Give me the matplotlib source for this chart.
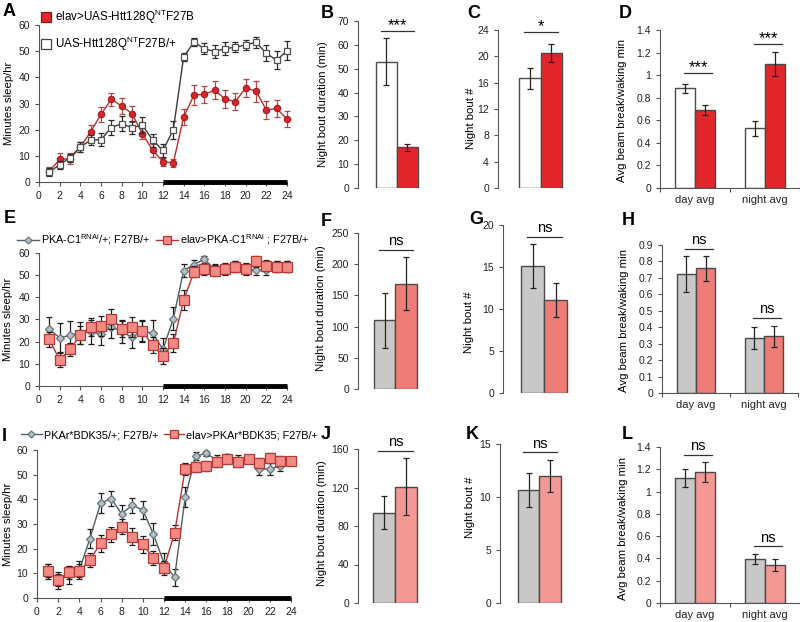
import matplotlib
matplotlib.use("Agg")
import matplotlib.pyplot as plt
from matplotlib.lines import Line2D
from matplotlib.ticker import FormatStrFormatter, FixedLocator
import numpy as np

plt.rcParams['font.family'] = ['Liberation Sans', 'DejaVu Sans']
plt.rcParams['mathtext.fontset'] = 'custom'
plt.rcParams['mathtext.rm'] = 'Liberation Sans'
plt.rcParams['mathtext.it'] = 'Liberation Sans:italic'

# ---------------- data ----------------
hours = list(range(1, 25))
night_span = [12, 24]

# Panel A
a_red = [4.2, 8.6, 8.9, 13.3, 19.2, 25.8, 31.7, 29.0, 26.1, 18.5, 12.1, 7.8,
         7.3, 24.9, 33.2, 33.5, 35.1, 31.7, 30.7, 36.0, 34.7, 27.5, 28.1, 24.0]
a_red_err = [1.5, 2.5, 2.0, 2.0, 2.5, 3.0, 2.5, 3.0, 3.0, 2.0, 2.5, 1.5,
             1.5, 3.0, 3.8, 3.2, 3.5, 3.5, 3.2, 3.5, 4.0, 3.5, 3.3, 3.0]
a_white = [3.8, 6.6, 9.3, 13.4, 16.0, 16.2, 20.8, 22.3, 20.7, 21.8, 16.0, 12.1,
           20.0, 47.9, 53.4, 51.0, 49.8, 51.0, 51.5, 52.4, 53.4, 49.2, 46.5, 50.2]
a_white_err = [1.5, 1.5, 1.5, 2.0, 2.0, 2.5, 3.0, 3.0, 2.5, 3.0, 2.5, 2.5,
               3.5, 1.5, 1.5, 2.0, 2.5, 2.5, 2.0, 2.0, 2.0, 3.0, 3.5, 3.5]

# Panel E
e_gray = [25.5, 21.7, 22.9, 24.0, 24.4, 23.4, 26.7, 24.4, 22.0, 24.9, 23.7, 16.5,
          30.4, 52.0, 54.7, 57.1, 52.6, 52.9, 53.7, 52.9, 52.3, 52.3, 53.7, 53.7]
e_gray_err = [5.5, 6.5, 6.5, 5.0, 5.5, 5.0, 5.0, 5.0, 5.0, 5.0, 6.0, 5.0,
              5.0, 3.0, 2.0, 1.5, 2.5, 2.5, 2.5, 2.5, 2.5, 2.5, 2.5, 2.5]
e_red = [21.0, 11.7, 16.5, 22.9, 26.7, 27.1, 30.4, 25.9, 26.7, 24.7, 18.4, 13.6,
         19.2, 38.7, 51.4, 52.6, 51.9, 52.6, 53.7, 52.6, 56.2, 54.1, 53.7, 53.7]
e_red_err = [3.5, 3.0, 3.0, 4.0, 4.0, 4.5, 4.5, 4.0, 4.5, 4.5, 3.5, 3.5,
             4.0, 4.5, 2.5, 2.5, 2.5, 2.5, 2.5, 2.5, 2.5, 2.5, 2.5, 2.5]

# Panel I
i_gray = [10.7, 7.0, 9.3, 11.4, 24.1, 38.4, 40.3, 34.2, 37.6, 35.7, 25.9, 14.1,
          8.4, 40.8, 57.6, 58.6, 55.9, 57.0, 55.9, 56.2, 52.3, 52.3, 53.5, 55.7]
i_gray_err = [3.0, 3.5, 3.5, 3.5, 4.0, 4.0, 3.0, 3.5, 3.0, 3.5, 4.5, 4.0,
              3.5, 4.0, 1.5, 1.0, 2.0, 1.5, 2.0, 1.5, 2.5, 2.5, 2.0, 1.5]
i_red = [11.1, 7.3, 10.4, 11.1, 15.4, 22.2, 25.9, 28.9, 24.9, 21.8, 16.2, 12.2,
         26.4, 52.3, 53.0, 53.5, 55.3, 56.5, 55.3, 56.2, 54.6, 56.6, 55.4, 55.4]
i_red_err = [2.5, 2.5, 2.5, 2.5, 3.0, 3.5, 3.0, 3.0, 3.5, 3.5, 3.0, 3.0,
             3.0, 2.5, 2.0, 2.0, 2.0, 1.5, 2.0, 1.5, 2.0, 2.0, 2.0, 1.5]

# bar panels: [control, experimental]
b_vals, b_err = [53.0, 17.0], [10.0, 1.5]
c_vals, c_err = [16.7, 20.5], [1.6, 1.3]
categories = ['day avg', 'night avg']
d_ctrl, d_ctrl_err = [0.885, 0.53], [0.04, 0.065]
d_exp, d_exp_err = [0.69, 1.10], [0.045, 0.105]
f_vals, f_err = [110.0, 169.0], [44.0, 43.0]
g_vals, g_err = [15.1, 11.1], [2.6, 2.0]
h_ctrl, h_ctrl_err = [0.725, 0.335], [0.11, 0.068]
h_exp, h_exp_err = [0.76, 0.345], [0.076, 0.065]
j_vals, j_err = [94.0, 121.0], [17.0, 30.0]
k_vals, k_err = [10.7, 12.0], [1.6, 1.5]
l_ctrl, l_ctrl_err = [1.125, 0.395], [0.08, 0.045]
l_exp, l_exp_err = [1.175, 0.34], [0.09, 0.055]

# ---------------- styles ----------------
RED = '#e3262b'
PINK1 = '#f07c78'
PINK2 = '#f49896'
GRAY = '#c8c8c8'
EDGE = '#4a4a4a'
AX_COL = '#555555'
TICK_FS = 7.5
LAB_FS = 8.2

fig = plt.figure(figsize=(8, 6.22), dpi=100)
W, H = 800.0, 622.0


def add_ax(left, top, right, bottom):
    return fig.add_axes([left / W, 1 - bottom / H, (right - left) / W, (bottom - top) / H])


def style_axes(ax, bottom=True):
    for s in ['top', 'right']:
        ax.spines[s].set_visible(False)
    ax.spines['left'].set_color(AX_COL)
    ax.spines['left'].set_linewidth(0.8)
    if bottom:
        ax.spines['bottom'].set_color(AX_COL)
        ax.spines['bottom'].set_linewidth(0.8)
    else:
        ax.spines['bottom'].set_visible(False)
    ax.tick_params(axis='both', labelsize=TICK_FS, colors=AX_COL, labelcolor='#222222',
                   length=3, width=0.8, direction='out')
    ax.patch.set_alpha(0)


def line_panel(ax, s1, s2, ylab_x):
    x = np.array(hours)
    for s in (s1, s2):
        ax.errorbar(x, s['y'], yerr=s['err'], color=s['line'], lw=1.0,
                    marker=s['marker'], ms=s['ms'], mfc=s['mfc'], mec=s['mec'], mew=0.9,
                    ecolor=s['ecol'], elinewidth=0.9, capsize=2.5, capthick=0.9,
                    zorder=s['z'], clip_on=False)
    ax.set_xlim(0, 24)
    ax.set_ylim(0, 60)
    ax.set_xticks(range(0, 25, 2))
    ax.set_yticks(range(0, 61, 10))
    style_axes(ax)
    ax.plot(night_span, [0, 0], color='black', lw=3.5, solid_capstyle='butt',
            clip_on=False, zorder=5)
    ax.set_ylabel('Minutes sleep/hr', fontsize=LAB_FS)
    ax.yaxis.set_label_coords(ylab_x, 0.5)


def sig(ax, x0, x1, y, txt):
    star = '*' in txt
    ax.plot([x0, x1], [y, y], color='#333333', lw=0.9, clip_on=False)
    ax.annotate(txt, xy=((x0 + x1) / 2, y), xytext=(0, -1.5 if star else 1.2),
                textcoords='offset points', ha='center', va='bottom',
                fontsize=12 if star else 10.5, annotation_clip=False)


def pair_panel(ax, vals, errs, colors, xlim, ylim, yticks, ylab, ylab_xy, sigtxt, sigy, fmt='%g'):
    ax.bar([0, 1], vals, width=1.0, color=colors, edgecolor=EDGE, linewidth=1.0,
           yerr=errs, error_kw=dict(ecolor='#222222', elinewidth=0.9, capsize=2.5, capthick=0.9))
    ax.set_xlim(*xlim)
    ax.set_ylim(*ylim)
    ax.set_yticks(yticks)
    ax.yaxis.set_major_formatter(FormatStrFormatter(fmt))
    ax.set_xticks([])
    style_axes(ax, bottom=False)
    ax.set_ylabel(ylab, fontsize=LAB_FS)
    ax.yaxis.set_label_coords(*ylab_xy)
    sig(ax, -0.25, 1.3, sigy, sigtxt)


def group_panel(ax, ctrl, ctrl_err, exp, exp_err, colors, ylim, yticks, ylab, ylab_xy, sigs):
    w = 20.0 / 70.0
    x = np.arange(len(categories))
    ek = dict(ecolor='#222222', elinewidth=0.9, capsize=2.5, capthick=0.9)
    ax.bar(x - w / 2, ctrl, width=w, color=colors[0], edgecolor=EDGE, linewidth=1.0,
           yerr=ctrl_err, error_kw=ek)
    ax.bar(x + w / 2, exp, width=w, color=colors[1], edgecolor=EDGE, linewidth=1.0,
           yerr=exp_err, error_kw=ek)
    ax.set_xlim(-0.5, 1.5)
    ax.set_ylim(*ylim)
    ax.set_yticks(yticks)
    ax.yaxis.set_major_formatter(FormatStrFormatter('%g'))
    ax.xaxis.set_major_locator(FixedLocator([-0.5, 0.5, 1.5]))
    ax.xaxis.set_minor_locator(FixedLocator(list(x)))
    ax.set_xticklabels([])
    ax.set_xticklabels(categories, minor=True)
    style_axes(ax)
    ax.tick_params(axis='x', which='minor', length=0, labelsize=TICK_FS + 0.5, pad=5,
                   labelcolor='#222222')
    ax.set_ylabel(ylab, fontsize=LAB_FS)
    ax.yaxis.set_label_coords(*ylab_xy)
    for xi, y, txt in sigs:
        sig(ax, xi - 0.55 * w, xi + 0.85 * w, y, txt)


# ---------------- line panels ----------------
axA = add_ax(39, 25, 287, 182)
line_panel(axA,
           dict(y=a_red, err=a_red_err, line='#b83030', marker='o', ms=4.5, mfc='#d8262b',
                mec='#a81e22', ecol='#a84a48', z=3),
           dict(y=a_white, err=a_white_err, line='#3a3a3a', marker='s', ms=5, mfc='white',
                mec='#505050', ecol='#2a2a2a', z=4),
           -0.1)
axA.legend(handles=[Line2D([], [], ls='none', marker='s', ms=6.5, mfc=RED, mec='#7a1a1a', mew=0.9),
                    Line2D([], [], ls='none', marker='s', ms=6.5, mfc='white', mec='#444444', mew=0.9)],
           labels=[r'elav>UAS-Htt128Q$^{\mathrm{NT}}$F27B', r'UAS-Htt128Q$^{\mathrm{NT}}$F27B/+'],
           loc='upper left', bbox_to_anchor=(41 / W, 1 - 8 / H), bbox_transform=fig.transFigure,
           frameon=False, fontsize=8.4, handlelength=0.8, handletextpad=0.4, labelspacing=0.75,
           borderpad=0, borderaxespad=0)

gray_series = dict(line='#4f5f66', marker='D', ms=4.2, mfc='#b7c0c4', mec='#66767c', ecol='#1e1e1e', z=3)
pink_series = dict(line='#b03431', marker='s', ms=6.5, mfc='#f28a86', mec='#b53a36', ecol='#1e1e1e', z=4)

axE = add_ax(39, 252.8, 287, 386)
line_panel(axE, dict(y=e_gray, err=e_gray_err, **gray_series),
           dict(y=e_red, err=e_red_err, **pink_series), -0.105)
axI = add_ax(37, 450, 291, 598)
line_panel(axI, dict(y=i_gray, err=i_gray_err, **gray_series),
           dict(y=i_red, err=i_red_err, **pink_series), -0.095)


def lh(s):
    return Line2D([], [], color=s['line'], lw=1.0, marker=s['marker'], ms=s['ms'] * 0.85,
                  mfc=s['mfc'], mec=s['mec'], mew=0.9)


fig.legend(handles=[lh(gray_series), lh(pink_series)],
           labels=[r'PKA-C1$^{\mathrm{RNAi}}$/+; F27B/+', r'elav>PKA-C1$^{\mathrm{RNAi}}$ ; F27B/+'],
           loc='center left', bbox_to_anchor=(17 / W, 1 - 240 / H), ncol=2, frameon=False,
           fontsize=7.8, handlelength=2.0, handletextpad=0.2, columnspacing=0.5,
           borderpad=0, borderaxespad=0)
fig.legend(handles=[lh(gray_series), lh(pink_series)],
           labels=['PKAr*BDK35/+; F27B/+', 'elav>PKAr*BDK35; F27B/+'],
           loc='center left', bbox_to_anchor=(21 / W, 1 - 435 / H), ncol=2, frameon=False,
           fontsize=7.8, handlelength=1.9, handletextpad=0.2, columnspacing=0.5,
           borderpad=0, borderaxespad=0)

# ---------------- bar panels ----------------
axB = add_ax(358, 21, 440, 188)
pair_panel(axB, b_vals, b_err, ['white', RED], (-1.357, 2.548), (0, 70), range(0, 71, 10),
           'Night bout duration (min)', (-0.37, 0.5), '***', 65.8)
axC = add_ax(498, 30, 580, 188)
pair_panel(axC, c_vals, c_err, ['white', RED], (-1.477, 2.337), (0, 24), range(0, 25, 4),
           'Night bout #', (-0.27, 0.44), '*', 23.7)
axD = add_ax(660, 30, 800, 188)
group_panel(axD, d_ctrl, d_ctrl_err, d_exp, d_exp_err, ['white', RED], (0, 1.4),
            np.arange(0, 1.41, 0.2), 'Avg beam break/waking min', (-0.235, 0.49),
            [(0, 1.02, '***'), (1, 1.28, '***')])

axF = add_ax(358, 233, 440, 389)
pair_panel(axF, f_vals, f_err, [GRAY, PINK1], (-1.244, 2.57), (0, 250), range(0, 251, 50),
           'Night bout duration (min)', (-0.39, 0.52), 'ns', 222.8)
axG = add_ax(503, 225, 585, 393)
pair_panel(axG, g_vals, g_err, [GRAY, PINK1], (-1.283, 2.282), (0, 20), range(0, 21, 5),
           'Night bout #', (-0.355, 0.42), 'ns', 18.6)
axH = add_ax(662, 245, 798, 393)
group_panel(axH, h_ctrl, h_ctrl_err, h_exp, h_exp_err, [GRAY, PINK1], (0, 0.9),
            np.arange(0, 0.91, 0.1), 'Avg beam break/waking min', (-0.245, 0.49),
            [(0, 0.876, 'ns'), (1, 0.456, 'ns')])

axJ = add_ax(358, 449, 440, 603)
pair_panel(axJ, j_vals, j_err, [GRAY, PINK2], (-1.18, 2.547), (0, 160), range(0, 161, 40),
           'Night bout duration (min)', (-0.38, 0.52), 'ns', 158)
axK = add_ax(500, 444, 582, 603)
pair_panel(axK, k_vals, k_err, [GRAY, PINK2], (-1.337, 2.477), (0, 15), range(0, 16, 5),
           'Night bout #', (-0.305, 0.6), 'ns', 14.2)
axL = add_ax(660, 447, 800, 603)
group_panel(axL, l_ctrl, l_ctrl_err, l_exp, l_exp_err, [GRAY, PINK2], (0, 1.4),
            np.arange(0, 1.41, 0.2), 'Avg beam break/waking min', (-0.225, 0.48),
            [(0, 1.33, 'ns'), (1, 0.51, 'ns')])

# ---------------- panel letters ----------------
letters = {'A': (3, 3), 'B': (321, 5), 'C': (467, 5), 'D': (619, 5),
           'E': (4, 210), 'F': (321, 213), 'G': (469, 211), 'H': (622, 212),
           'I': (2, 428), 'J': (321, 426), 'K': (466, 426), 'L': (622, 426)}
for k, (px, py) in letters.items():
    fig.text(px / W, 1 - py / H, k, fontsize=13, fontweight='bold', ha='left', va='top')

fig.savefig('out.png', dpi=100)
